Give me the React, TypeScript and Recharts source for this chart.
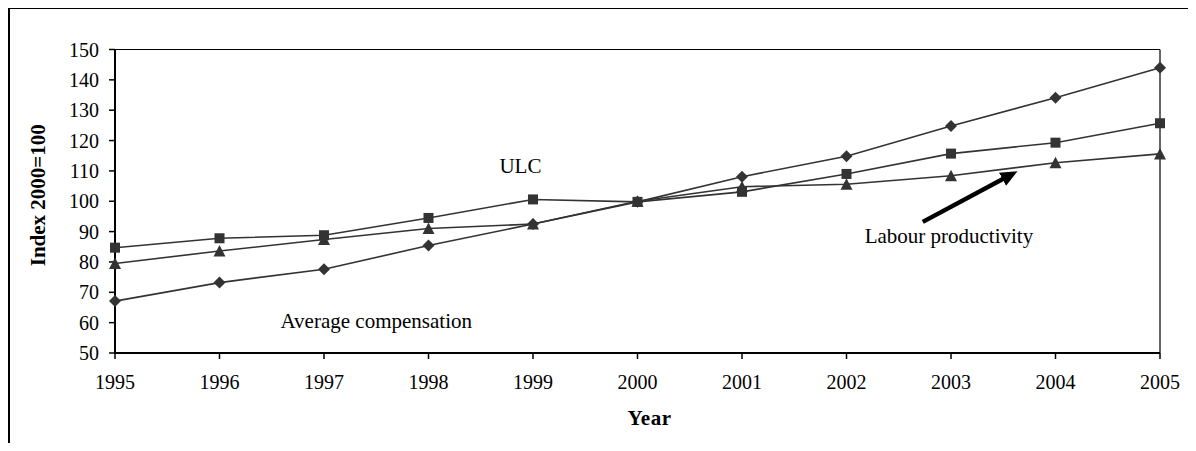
import React from 'react';
import { LineChart, Line, XAxis, YAxis, ReferenceLine, ReferenceDot, Label } from 'recharts';

const years = [1995, 1996, 1997, 1998, 1999, 2000, 2001, 2002, 2003, 2004, 2005];
const averageCompensation = [67.1, 73.2, 77.6, 85.4, 92.5, 99.8, 108.1, 114.8, 124.8, 134.1, 144.0];
const ulc = [84.7, 87.8, 88.8, 94.5, 100.6, 99.8, 103.1, 109.0, 115.7, 119.3, 125.7];
const labourProductivity = [79.5, 83.6, 87.4, 91.0, 92.5, 100.0, 104.8, 105.6, 108.4, 112.7, 115.6];
const yTicks = [50, 60, 70, 80, 90, 100, 110, 120, 130, 140, 150];
const xTicks = years;

const data = years.map((year, i) => ({
  year,
  avg: averageCompensation[i],
  ulc: ulc[i],
  lp: labourProductivity[i],
}));

const FONT = "'Liberation Serif', 'Times New Roman', serif";
const INK = '#333333';

const DiamondDot = (props: any) => {
  const { cx, cy, index } = props;
  if (cx == null || cy == null) return <g key={`d${index}`} />;
  const s = 6;
  return (
    <polygon
      key={`d${index}`}
      points={`${cx},${cy - s} ${cx + s},${cy} ${cx},${cy + s} ${cx - s},${cy}`}
      fill={INK}
    />
  );
};

const SquareDot = (props: any) => {
  const { cx, cy, index } = props;
  if (cx == null || cy == null) return <g key={`s${index}`} />;
  const s = 5;
  return <rect key={`s${index}`} x={cx - s} y={cy - s} width={2 * s} height={2 * s} fill={INK} />;
};

const TriangleDot = (props: any) => {
  const { cx, cy, index } = props;
  if (cx == null || cy == null) return <g key={`t${index}`} />;
  return (
    <polygon
      key={`t${index}`}
      points={`${cx},${cy - 6} ${cx + 6},${cy + 5.5} ${cx - 6},${cy + 5.5}`}
      fill={INK}
    />
  );
};

const XTick = (props: any) => {
  const { x, y, payload } = props;
  return (
    <text x={x} y={y + 14} textAnchor="middle" fontFamily={FONT} fontSize={20} fill="#000">
      {payload.value}
    </text>
  );
};

const YTick = (props: any) => {
  const { x, y, payload } = props;
  return (
    <text x={x} y={y + 7} textAnchor="end" fontFamily={FONT} fontSize={20} fill="#000">
      {payload.value}
    </text>
  );
};

const YTitle = (props: any) => {
  const vb = props.viewBox || {};
  const cx = vb.x - 17;
  const cy = vb.y + vb.height / 2 - 6;
  return (
    <text
      x={cx}
      y={cy}
      transform={`rotate(-90 ${cx} ${cy})`}
      textAnchor="middle"
      dominantBaseline="central"
      fontFamily={FONT}
      fontWeight="bold"
      fontSize={21}
      fill="#000"
    >
      Index 2000=100
    </text>
  );
};

const XTitle = (props: any) => {
  const vb = props.viewBox || {};
  const cx = vb.x + vb.width / 2 + 12;
  const cy = vb.y + 72;
  return (
    <text
      x={cx}
      y={cy}
      textAnchor="middle"
      fontFamily={FONT}
      fontWeight="bold"
      fontSize={21}
      letterSpacing={0.5}
      fill="#000"
    >
      Year
    </text>
  );
};

const makeAnnotation = (text: string) => (props: any) => {
  const vb = props.viewBox || {};
  const cx = vb.x + (vb.width || 0) / 2;
  const cy = vb.y + (vb.height || 0) / 2;
  return (
    <text x={cx} y={cy + 7.5} textAnchor="middle" fontFamily={FONT} fontSize={21} fill="#000">
      {text}
    </text>
  );
};

const UlcLabel = makeAnnotation('ULC');
const AvgLabel = makeAnnotation('Average compensation');
const LpLabel = makeAnnotation('Labour productivity');

export default function App() {
  return (
    <div style={{ position: 'relative', width: 1188, height: 443, marginBottom: -8, fontFamily: FONT }}>
      <div
        style={{
          position: 'absolute',
          left: 0,
          top: -1,
          width: 1188,
          height: 444,
          borderTop: '2px solid #000',
          borderLeft: '2px solid #000',
          boxSizing: 'border-box',
        }}
      />
      <div style={{ position: 'absolute', left: 0, top: 0 }}>
        <LineChart
          width={1188}
          height={443}
          data={data}
          margin={{ top: 41.5, right: 36, left: 47, bottom: 68 }}
        >
          <defs>
            <marker
              id="arrowHead"
              markerUnits="userSpaceOnUse"
              markerWidth={18}
              markerHeight={16}
              refX={2}
              refY={7.5}
              orient="auto"
            >
              <path d="M0,0 L17,7.5 L0,15 z" fill="#000" />
            </marker>
          </defs>
          <XAxis
            dataKey="year"
            type="number"
            domain={[1995, 2005]}
            ticks={xTicks}
            height={30}
            tickSize={6}
            tickMargin={16}
            axisLine={{ stroke: '#000', strokeWidth: 2 }}
            tickLine={{ stroke: '#000', strokeWidth: 1.5 }}
            tick={XTick}
            allowDecimals={false}
          >
            <Label content={XTitle} />
          </XAxis>
          <YAxis
            type="number"
            domain={[50, 150]}
            ticks={yTicks}
            width={60}
            tickSize={6}
            tickMargin={10}
            axisLine={{ stroke: '#000', strokeWidth: 2 }}
            tickLine={{ stroke: '#000', strokeWidth: 1.5 }}
            tick={YTick}
          >
            <Label content={YTitle} />
          </YAxis>
          <ReferenceLine y={150} stroke="#000" strokeWidth={1.2} />
          <ReferenceLine x={2005} stroke="#000" strokeWidth={1.2} />
          <Line
            dataKey="avg"
            type="linear"
            stroke={INK}
            strokeWidth={1.6}
            dot={DiamondDot}
            activeDot={false}
            isAnimationActive={false}
          />
          <Line
            dataKey="ulc"
            type="linear"
            stroke={INK}
            strokeWidth={1.6}
            dot={SquareDot}
            activeDot={false}
            isAnimationActive={false}
          />
          <Line
            dataKey="lp"
            type="linear"
            stroke={INK}
            strokeWidth={1.6}
            dot={TriangleDot}
            activeDot={false}
            isAnimationActive={false}
          />
          <ReferenceDot x={1998.88} y={111.9} r={0} label={<Label content={UlcLabel} />} />
          <ReferenceDot x={1997.5} y={60.6} r={0} label={<Label content={AvgLabel} />} />
          <ReferenceDot x={2002.98} y={88.6} r={0} label={<Label content={LpLabel} />} />
          <ReferenceLine
            segment={[
              { x: 2002.73, y: 93.2 },
              { x: 2003.51, y: 107.56 },
            ]}
            stroke="#000"
            strokeWidth={4.5}
            markerEnd="url(#arrowHead)"
          />
        </LineChart>
      </div>
    </div>
  );
}
